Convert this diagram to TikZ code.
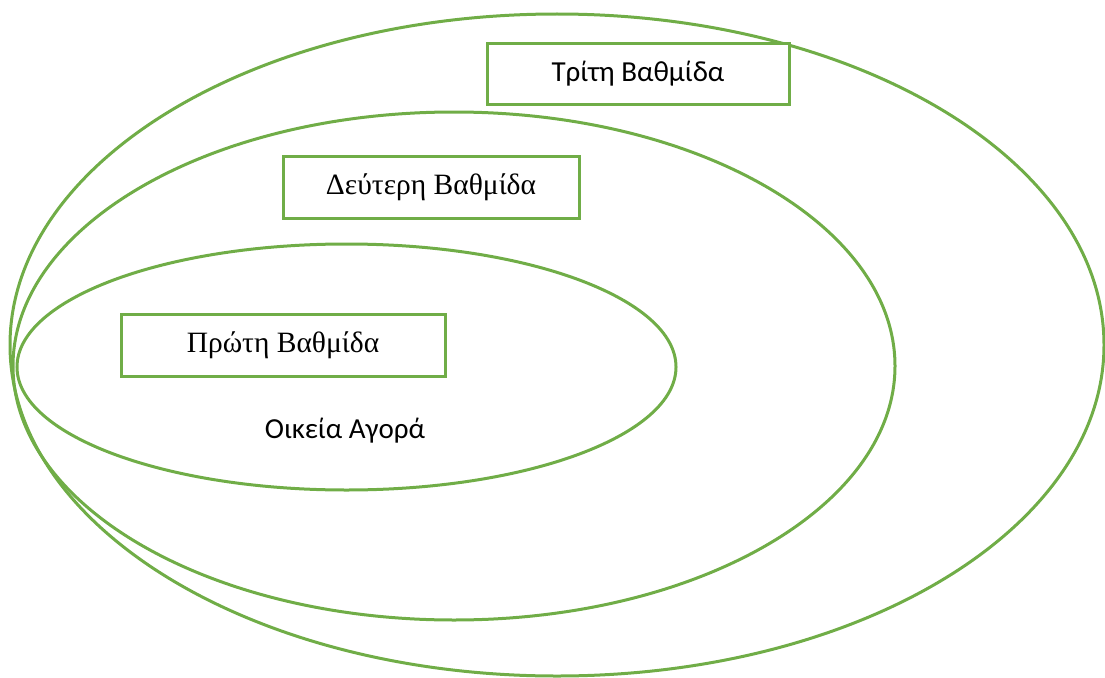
\documentclass[tikz,border=0pt]{standalone}
\usepackage{fontspec}
\setmainfont{Liberation Serif}
\newfontfamily\calib{Carlito}
\definecolor{tiergreen}{HTML}{70AD47}
\tikzset{
  ring/.style={draw=tiergreen, line width=3pt},
  tierbox/.style={draw=tiergreen, line width=3pt, fill=white, rectangle,
    inner sep=0pt, text=black},
}
\begin{document}
\begin{tikzpicture}[x=1pt, y=-1pt]
  \useasboundingbox (0,0) rectangle (1105,677);
  % nested market circles
  \draw[ring] (557,345) ellipse [x radius=547, y radius=331];
  \draw[ring] (454,366) ellipse [x radius=441, y radius=254];
  \draw[ring] (346.5,367) ellipse [x radius=329.5, y radius=123];
  % tier labels
  \node[tierbox, minimum width=302pt, minimum height=60pt] (tier3) at (638,74)
    {\calib\fontsize{29}{34}\selectfont Τρίτη Βαθμίδα};
  \node[tierbox, minimum width=296pt, minimum height=62pt] (tier2) at (431,187)
    {\fontsize{29.5}{35}\selectfont Δεύτερη Βαθμίδα};
  \node[tierbox, minimum width=324pt, minimum height=62pt] (tier1) at (283,345)
    {\fontsize{29.5}{35}\selectfont Πρώτη Βαθμίδα};
  \node[text=black] (home) at (345,431)
    {\calib\fontsize{29}{34}\selectfont Οικεία Αγορά};
\end{tikzpicture}
\end{document}
